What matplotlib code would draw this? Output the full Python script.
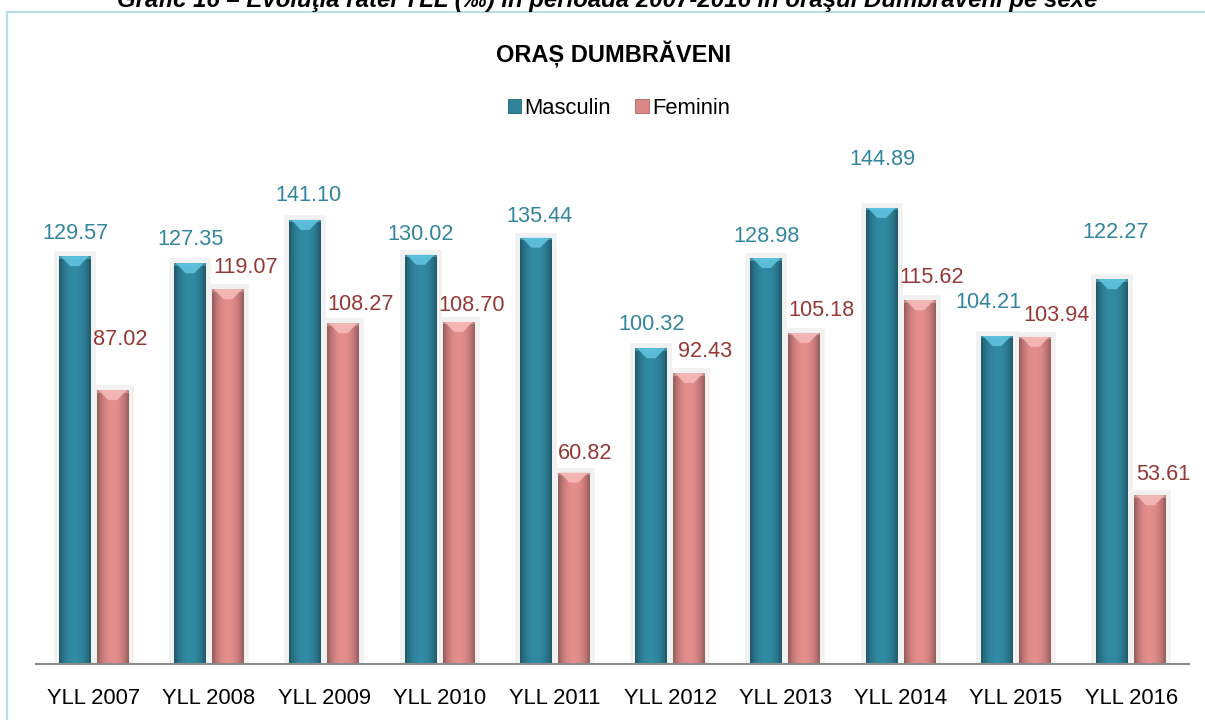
import numpy as np
import matplotlib
matplotlib.use("Agg")
import matplotlib.pyplot as plt
from matplotlib import font_manager
from matplotlib.patches import Rectangle, Polygon, Patch
import matplotlib.patheffects as pe

# ---------------- data ----------------
categories = ["YLL 2007", "YLL 2008", "YLL 2009", "YLL 2010", "YLL 2011",
              "YLL 2012", "YLL 2013", "YLL 2014", "YLL 2015", "YLL 2016"]
masculin = [129.57, 127.35, 141.10, 130.02, 135.44, 100.32, 128.98, 144.89, 104.21, 122.27]
feminin = [87.02, 119.07, 108.27, 108.70, 60.82, 92.43, 105.18, 115.62, 103.94, 53.61]
series_names = ["Masculin", "Feminin"]
title = "ORAȘ DUMBRĂVENI"
caption = "Grafic 16 – Evoluţia ratei YLL (‰) în perioada 2007-2016 în oraşul Dumbrăveni pe sexe"

# label offsets (pixels): (dx, dy) relative to bar top centre
male_lbl_off = [(1, 17), (1, 18), (3, 19), (0, 15), (4, 16), (0, 18), (0, 16), (1, 43), (-9, 28), (3, 41)]
fem_lbl_off = [(8, 45), (18, 16), (17, 13), (13, 11), (11, 14), (16, 16), (17, 17), (12, 17), (21, 16), (13, 15)]

# ---------------- fonts ----------------
avail = {f.name for f in font_manager.fontManager.ttflist}
narrow = None
for cand in ["Liberation Sans Narrow", "Arial Narrow"]:
    if cand in avail:
        narrow = cand
        break
base_font = narrow if narrow else "Liberation Sans"
plt.rcParams["font.family"] = [base_font, "Liberation Sans", "DejaVu Sans"]
scale = 1.0 if narrow else 0.84

male_col = "#2F839B"
fem_col = "#D98785"
male_txt = "#31859C"
fem_txt = "#953735"

W, H = 1205, 720
fig = plt.figure(figsize=(W / 100, H / 100), dpi=100)
fig.patch.set_facecolor("white")

ax_left, ax_right = 36 / W, 1189 / W
ax_bottom, ax_top = 1 - 664 / H, 1 - 150 / H
ax = fig.add_axes([ax_left, ax_bottom, ax_right - ax_left, ax_top - ax_bottom])
ax.set_facecolor("none")

x = np.arange(len(categories))
bw = 0.2775
off = 0.165
YMAX = 163.3
ax.set_xlim(-0.5, len(categories) - 0.5)
ax.set_ylim(0, YMAX)

halo = [pe.withStroke(linewidth=7, foreground="#F1F1F1")]
bars_m = ax.bar(x - off, masculin, bw, color=male_col, zorder=2, path_effects=halo)
bars_f = ax.bar(x + off, feminin, bw, color=fem_col, zorder=2, path_effects=halo)

px_to_data = YMAX / (664 - 150)

def shade(bars, color, light):
    c = np.array(matplotlib.colors.to_rgb(color))
    lc = np.array(matplotlib.colors.to_rgb(light))
    t = np.linspace(0, 1, 64)
    prof = 1.0 - 0.32 * np.abs(2 * t - 1) ** 2.5 + 0.06 * (1 - np.abs(2 * t - 1))
    img = np.clip(c[None, :] * prof[:, None], 0, 1)[None, :, :]
    for b in bars:
        bx, bwid, bh = b.get_x(), b.get_width(), b.get_height()
        im = ax.imshow(img, extent=[bx, bx + bwid, 0, bh], aspect="auto",
                       zorder=2.1, interpolation="bilinear")
        im.set_clip_path(b)
        dy = 10 * px_to_data
        cap = Polygon([(bx + bwid * 0.06, bh), (bx + bwid * 0.94, bh),
                       (bx + bwid * 0.64, bh - dy), (bx + bwid * 0.36, bh - dy)],
                      closed=True, facecolor=lc, alpha=0.85, edgecolor="none", zorder=2.2)
        ax.add_patch(cap)
        band = Rectangle((bx, bh - 2.5 * px_to_data), bwid, 2.5 * px_to_data,
                         facecolor=lc, alpha=0.45, edgecolor="none", zorder=2.25)
        ax.add_patch(band)

shade(bars_m, male_col, "#62C6E2")
shade(bars_f, fem_col, "#F6BDBB")
ax.set_xlim(-0.5, len(categories) - 0.5)
ax.set_ylim(0, YMAX)

lbl_fs = 18.5 * scale
for b, v, (dx, dy) in zip(bars_m, masculin, male_lbl_off):
    ax.annotate(f"{v:.2f}", (b.get_x() + b.get_width() / 2, b.get_height()),
                xytext=(dx, dy), textcoords="offset pixels", ha="center", va="baseline",
                fontsize=lbl_fs, color=male_txt, zorder=5)
for b, v, (dx, dy) in zip(bars_f, feminin, fem_lbl_off):
    ax.annotate(f"{v:.2f}", (b.get_x() + b.get_width() / 2, b.get_height()),
                xytext=(dx, dy), textcoords="offset pixels", ha="center", va="baseline",
                fontsize=lbl_fs, color=fem_txt, zorder=5)

for s in ["top", "right", "left"]:
    ax.spines[s].set_visible(False)
ax.spines["bottom"].set_color("#8C8C8C")
ax.spines["bottom"].set_linewidth(1.5)
ax.spines["bottom"].set_zorder(3)
ax.set_yticks([])
ax.set_xticks(x)
ax.set_xticklabels(categories, fontsize=18.5 * scale + 0.3, color="black")
ax.tick_params(axis="x", length=0, pad=17)

# title
fig.text(614 / W, 1 - 62 / H, title, ha="center", va="baseline",
         fontsize=17, fontweight="bold", color="black")

# legend
handles = [Patch(facecolor=male_col, edgecolor="#1F6378", linewidth=0.6),
           Patch(facecolor=fem_col, edgecolor="#B06462", linewidth=0.6)]
fig.legend(handles, series_names, loc="center", bbox_to_anchor=(619 / W, 1 - 108 / H),
           ncol=2, frameon=False, fontsize=18.5 * scale + 0.3, handlelength=0.6, handleheight=0.6,
           handletextpad=0.15, columnspacing=1.1, borderaxespad=0)

# frame
fig.add_artist(Rectangle((6.5 / W, -0.1), 1.2, 1.1 - 12 / H, transform=fig.transFigure,
                         fill=False, edgecolor="#B9DDE9", linewidth=1.6, zorder=0))

# caption (cut off at top as in the source), auto-fit width
cap_t = fig.text(607 / W, 1 - 7 / H, caption, ha="center", va="baseline",
                 fontsize=16, fontweight="bold", fontstyle="italic", color="black")
fig.canvas.draw()
ext = cap_t.get_window_extent(fig.canvas.get_renderer())
cap_t.set_fontsize(16 * 980 / ext.width)

fig.savefig("out.png", dpi=100, facecolor="white")
